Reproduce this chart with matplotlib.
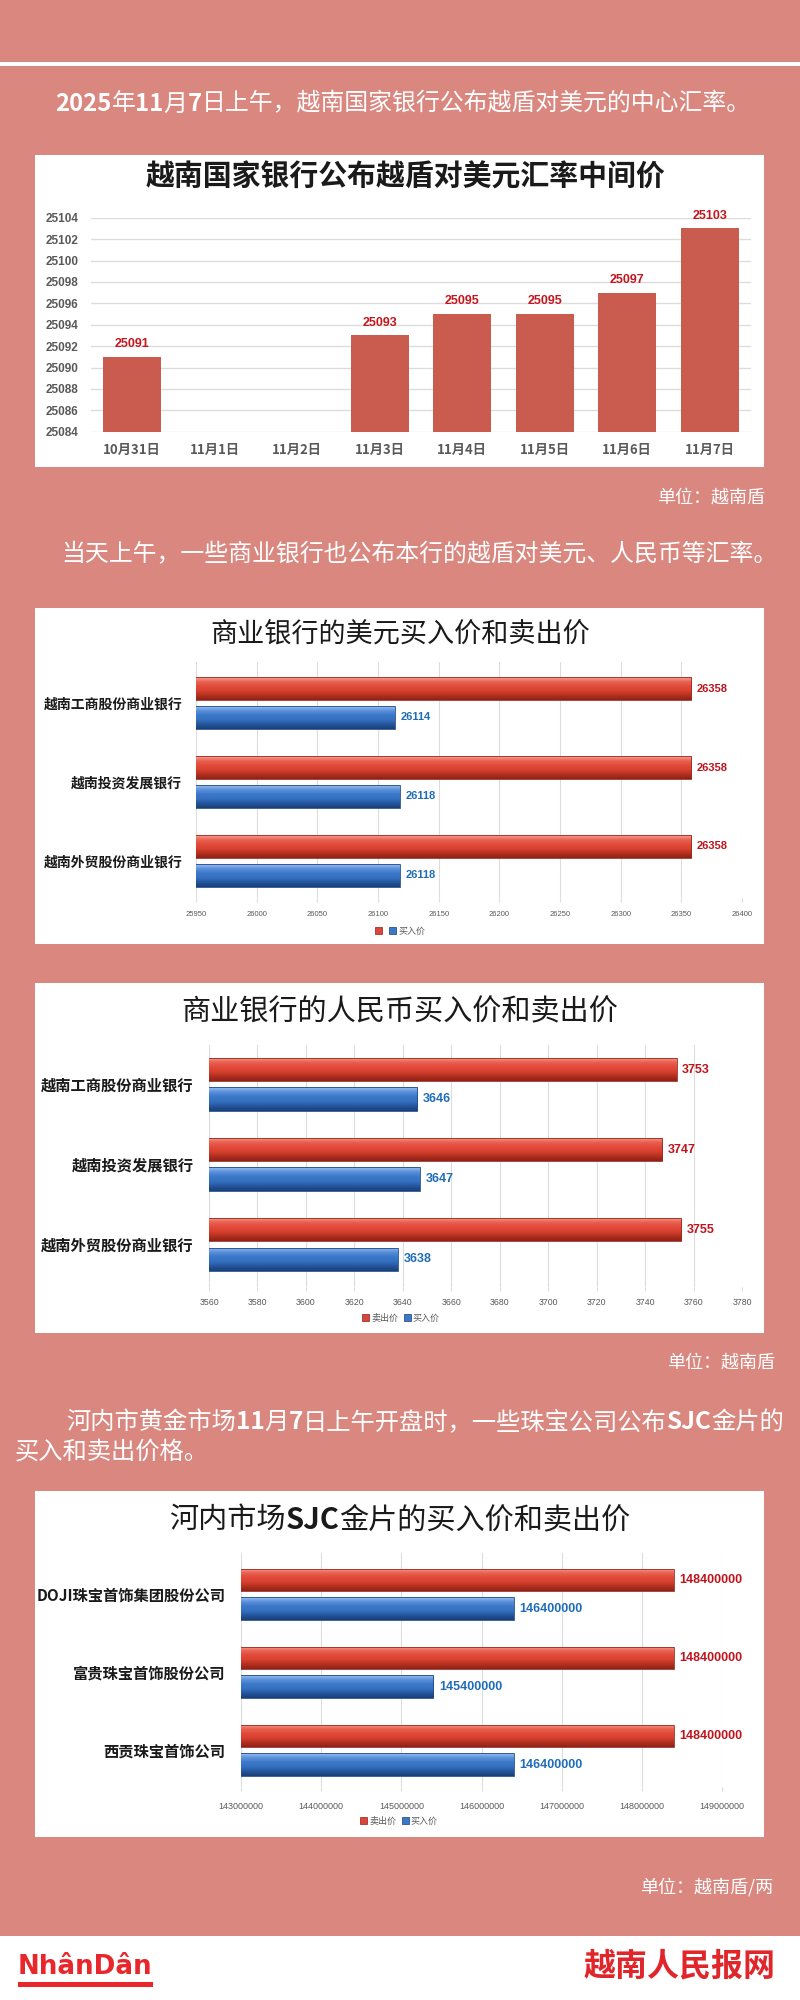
import numpy as np
import matplotlib.pyplot as plt
from matplotlib.colors import LinearSegmentedColormap
from matplotlib.patches import Rectangle, Patch

plt.rcParams['font.family'] = ['Noto Sans CJK SC', 'DejaVu Sans']

# ---- data ----
dates = ['10月31日', '11月1日', '11月2日', '11月3日', '11月4日', '11月5日', '11月6日', '11月7日']
central_rate = [25091, np.nan, np.nan, 25093, 25095, 25095, 25097, 25103]

banks = ['越南工商股份商业银行', '越南投资发展银行', '越南外贸股份商业银行']
usd_sell = [26358, 26358, 26358]
usd_buy = [26114, 26118, 26118]
cny_sell = [3753, 3747, 3755]
cny_buy = [3646, 3647, 3638]

gold_shops = ['DOJI珠宝首饰集团股份公司', '富贵珠宝首饰股份公司', '西贡珠宝首饰公司']
gold_sell = [148400000, 148400000, 148400000]
gold_buy = [146400000, 145400000, 146400000]

W, H = 800, 2000
BG = '#D9877F'
NUM_FONT = ['Liberation Sans', 'DejaVu Sans']

fig = plt.figure(figsize=(8, 20), dpi=100, facecolor=BG)
renderer = fig.canvas.get_renderer()


def px_axes(x0, y0, x1, y1):
    return fig.add_axes([x0 / W, 1 - y1 / H, (x1 - x0) / W, (y1 - y0) / H])


def box(x0, y0, x1, y1, color='white'):
    fig.patches.append(Rectangle((x0 / W, 1 - y1 / H), (x1 - x0) / W, (y1 - y0) / H,
                                 transform=fig.transFigure, facecolor=color,
                                 edgecolor='none', zorder=-1))


def ftext(x, y, s, **kw):
    return fig.text(x / W, 1 - y / H, s, va='center', **kw)


def text_runs(x, y, runs, size, ha='left', color='white'):
    # place text pieces with different weights one after another
    objs, widths = [], []
    for s, wt in runs:
        t = ftext(0, y, s, fontsize=size, fontweight=wt, color=color)
        objs.append(t)
        widths.append(t.get_window_extent(renderer).width)
    start = x - sum(widths) / 2 if ha == 'center' else x
    for t, wd in zip(objs, widths):
        t.set_x(start / W)
        start += wd


# ---- header ----
box(0, 62, W, 66)
text_runs(403, 104, [('2025', 'bold'), ('年', 'normal'), ('11', 'bold'), ('月', 'normal'),
                     ('7', 'bold'), ('日上午，越南国家银行公布越盾对美元的中心汇率。', 'normal')],
          17.2, ha='center')

# ---- chart 1 ----
box(35, 155, 764, 467)
ftext(405, 177, '越南国家银行公布越盾对美元汇率中间价', fontsize=20.8, fontweight='bold',
      color='#1a1a1a', ha='center')
ax1 = px_axes(91, 217.7, 751, 431.7)
xs = np.arange(len(dates))
ax1.bar(xs, central_rate, width=0.7, color='#C95B4F', zorder=2)
ax1.set_xlim(-0.5, len(dates) - 0.5)
ax1.set_ylim(25084, 25104)
ax1.set_yticks(np.arange(25084, 25105, 2))
ax1.set_xticks(xs, dates)
ax1.set_facecolor('none')
ax1.grid(axis='y', color='#DCDCDC', lw=1)
ax1.set_axisbelow(True)
for s in ax1.spines.values():
    s.set_visible(False)
ax1.tick_params(length=0)
ax1.tick_params(axis='y', pad=9, labelsize=8.5, labelcolor='#595959')
ax1.tick_params(axis='x', pad=8, labelsize=9.5, labelcolor='#595959')
for lab in ax1.get_yticklabels():
    lab.set_fontweight('bold')
    lab.set_family(NUM_FONT)
for lab in ax1.get_xticklabels():
    lab.set_fontweight('bold')
for xi, v in zip(xs, central_rate):
    if not np.isnan(v):
        ax1.annotate(f'{v:.0f}', (xi, v), xytext=(0, 9), textcoords='offset points',
                     ha='center', va='center', fontsize=9, fontweight='bold',
                     color='#C4161C', family=NUM_FONT)
ftext(765, 498, '单位：越南盾', fontsize=13, color='white', ha='right')

# ---- horizontal bar charts ----
red_cmap = LinearSegmentedColormap.from_list(
    'r', ['#F5A296', '#EA6352', '#E14B3B', '#D8402F', '#B3301F', '#8E2218'])
blue_cmap = LinearSegmentedColormap.from_list(
    'b', ['#9CC0F0', '#5A90DA', '#3C78C9', '#3570C0', '#24559C', '#1A3F78'])
grad = np.linspace(0, 1, 64).reshape(-1, 1)


def gradient_bars(ax, bars, cmap, xmin):
    for b in bars:
        x0, y0, w, h = b.get_x(), b.get_y(), b.get_width(), b.get_height()
        start = max(x0, xmin)
        im = ax.imshow(grad, extent=(start, x0 + w, y0 + h, y0), cmap=cmap, aspect='auto',
                       interpolation='bilinear', zorder=2)
        im.set_clip_path(b)


def hbar_chart(box_px, title, ax_px, cats, sell, buy, lim, step, tick_size, tick_pad,
               cat_size, cat_pad, val_size, legend_xy, legend_labels, ylim, title_runs=None):
    box(*box_px)
    if title_runs:
        text_runs(400, title[1], title_runs, title[2], ha='center', color='#1a1a1a')
    else:
        ftext(400, title[1], title[0], fontsize=title[2], color='#1a1a1a', ha='center')
    ax = px_axes(*ax_px)
    y = np.arange(len(cats))
    rb = ax.barh(y - 0.183, sell, height=0.29, facecolor='none', edgecolor='#9A2A20',
                 lw=0.6, zorder=3)
    bb = ax.barh(y + 0.183, buy, height=0.29, facecolor='none', edgecolor='#1E4A8A',
                 lw=0.6, zorder=3)
    gradient_bars(ax, rb, red_cmap, lim[0])
    gradient_bars(ax, bb, blue_cmap, lim[0])
    for yi, v in zip(y, sell):
        ax.annotate(f'{v}', (v, yi - 0.183), xytext=(4, 0), textcoords='offset points',
                    ha='left', va='center', fontsize=val_size, fontweight='bold',
                    color='#C0141C', family=NUM_FONT)
    for yi, v in zip(y, buy):
        ax.annotate(f'{v}', (v, yi + 0.183), xytext=(4, 0), textcoords='offset points',
                    ha='left', va='center', fontsize=val_size, fontweight='bold',
                    color='#1F6DB8', family=NUM_FONT)
    ax.set_xlim(*lim)
    ax.set_ylim(*ylim)
    ax.set_xticks(np.arange(lim[0], lim[1] + step / 2, step))
    ax.set_yticks(y, cats)
    ax.set_facecolor('none')
    ax.grid(axis='x', color='#DCDCDC', lw=0.8)
    ax.set_axisbelow(True)
    for s in ax.spines.values():
        s.set_visible(False)
    ax.tick_params(axis='x', length=3, color='#DCDCDC', pad=tick_pad, labelsize=tick_size,
                   labelcolor='#595959')
    ax.tick_params(axis='y', length=0, pad=cat_pad, labelsize=cat_size, labelcolor='#1a1a1a')
    for lab in ax.get_xticklabels():
        lab.set_family(NUM_FONT)
    for lab in ax.get_yticklabels():
        lab.set_fontweight('bold')
    handles = [Patch(facecolor='#D9463A', edgecolor='#8E2218', lw=0.5),
               Patch(facecolor='#3C78C9', edgecolor='#1A3F78', lw=0.5)]
    ax.legend(handles, legend_labels, loc='center',
              bbox_to_anchor=(legend_xy[0] / W, 1 - legend_xy[1] / H),
              bbox_transform=fig.transFigure, ncol=2, frameon=False, fontsize=6.5,
              handlelength=0.8, handleheight=0.8, handletextpad=0.2, columnspacing=0.6,
              labelcolor='#595959')
    return ax


ftext(61, 555, '当天上午，一些商业银行也公布本行的越盾对美元、人民币等汇率。',
      fontsize=17.2, color='white', ha='left')

hbar_chart((35, 608, 764, 944), ('商业银行的美元买入价和卖出价', 635, 19.5),
           (196, 662, 742, 898), banks, usd_sell, usd_buy, (25950, 26400), 50,
           5.5, 6, 10, 10, 8, (400, 931), ['', '买入价'], (2.47, -0.52))

hbar_chart((35, 983, 764, 1333), ('商业银行的人民币买入价和卖出价', 1012, 21),
           (209, 1045, 742, 1287), banks, cny_sell, cny_buy, (3560, 3780), 20,
           6.3, 5, 11, 11, 9, (401, 1318), ['卖出价', '买入价'], (2.53, -0.49))
ftext(775, 1363, '单位：越南盾', fontsize=13, color='white', ha='right')

text_runs(66, 1422, [('河内市黄金市场', 'normal'), ('11', 'bold'), ('月', 'normal'),
                     ('7', 'bold'), ('日上午开盘时，一些珠宝公司公布', 'normal'),
                     ('SJC', 'bold'), ('金片的', 'normal')], 17.5)
ftext(15, 1452, '买入和卖出价格。', fontsize=17.5, color='white', ha='left')

ax4 = hbar_chart((35, 1491, 764, 1837), ('河内市场SJC金片的买入价和卖出价', 1520, 21),
                 (241, 1553, 722, 1787), gold_shops, gold_sell, gold_buy,
                 (143000000, 149000000), 1000000, 6.5, 8, 11, 11, 9, (399, 1821),
                 ['卖出价', '买入价'], (2.47, -0.53),
                 title_runs=[('河内市场', 'normal'), ('SJC', 'bold'),
                             ('金片的买入价和卖出价', 'normal')])
ax4.xaxis.get_major_formatter().set_useOffset(False)
ax4.xaxis.get_major_formatter().set_scientific(False)
ftext(773, 1887, '单位：越南盾/两', fontsize=13, color='white', ha='right')

# ---- footer ----
box(0, 1936, W, H)
logo = ftext(18, 1967, 'NhânDân', fontsize=25, fontweight='bold', color='#E8262B',
             ha='left', family=['DejaVu Sans'])
lw_px = logo.get_window_extent(renderer).width
logo.set_fontsize(25 * 135 / lw_px)
box(18, 1982, 153, 1987, color='#E8262B')
ftext(776, 1966, '越南人民报网', fontsize=23, fontweight='bold', color='#E0262A', ha='right')

fig.savefig('out.png', dpi=100, facecolor=BG)
